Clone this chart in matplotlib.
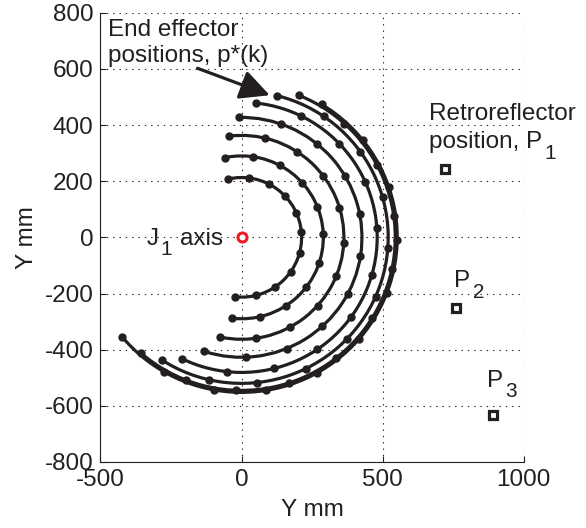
import numpy as np
import matplotlib
matplotlib.use('Agg')
import matplotlib.pyplot as plt
from matplotlib.patches import Arc

plt.rcParams['font.family'] = ['Liberation Sans', 'DejaVu Sans']
plt.rcParams['axes.unicode_minus'] = False

# end effector arcs (mm, degrees)
radii = [213, 290, 363, 427, 481, 520, 545, 552]
start_deg = [103, 102, 97, 91, 84, 76, 68, 59]
end_deg = [-96, -97, -102, -108, -116, -123, -131, -140]
dot_deg = [
    [103, 83, 63, 44, 24, 5, -15, -35, -56, -76, -96],
    [102, 82, 62, 42, 22, 2, -18, -38, -57, -77, -97],
    [97, 77, 57, 37, 17, -3, -22, -42, -62, -82, -102],
    [91, 71, 51, 31, 11, -9, -28, -48, -68, -88, -108],
    [84, 64, 44, 24, 4, -16, -36, -56, -76, -96, -116],
    [76, 56, 36, 16, -4, -24, -44, -64, -84, -103, -123],
    [68, 48, 28, 8, -12, -32, -52, -72, -92, -111, -131],
    [59, 39, 19, -1, -21, -41, -61, -81, -100, -120, -140],
]

# retroreflector positions
retro_x = [722, 760, 892]
retro_y = [243, -253, -632]
retro_base = ['position, P', 'P', 'P']
retro_sub = ['1', '2', '3']
retro_text_x = [664, 755, 870]
retro_text_y = [317, -178, -532]

ink = '#231f20'
fs = 17.5


def with_sub(x, y, base, sub):
    # MATLAB style subscript: nearly full size, dropped well below baseline
    t = ax.text(x, y, base, fontsize=fs, color=ink, ha='left', va='baseline')
    ax.annotate(sub, xy=(1, 0), xycoords=t, xytext=(1.5, -4), textcoords='offset points',
                fontsize=fs * 0.85, color=ink, ha='left', va='baseline')
    return t


fig = plt.figure(figsize=(5.86, 5.28), dpi=100)
ax = fig.add_axes([0.1715, 0.125, 0.722, 0.851])

for r, a0, a1, dots in zip(radii, start_deg, end_deg, dot_deg):
    ax.add_patch(Arc((0, 0), 2 * r, 2 * r, theta1=a1, theta2=a0,
                     color=ink, lw=2.3, zorder=3))
    t = np.radians(dots)
    ax.plot(r * np.cos(t), r * np.sin(t), 'o', color=ink, ms=5, zorder=4)

# J1 axis
ax.plot(0, 0, 'o', mfc='white', mec='#ed1c24', ms=6.5, mew=2.2, zorder=5)
with_sub(-336, -27, 'J', '1')
ax.text(-66, -27, 'axis', fontsize=fs, color=ink, ha='right', va='baseline')

ax.plot(retro_x, retro_y, 's', mfc='white', mec=ink, ms=5.5, mew=2.3, zorder=5)
ax.text(664, 417, 'Retroreflector', fontsize=fs, color=ink, ha='left', va='baseline')
for base, sub, tx, ty in zip(retro_base, retro_sub, retro_text_x, retro_text_y):
    with_sub(tx, ty, base, sub)

ax.text(-472, 625, 'End effector\npositions, p*(k)', fontsize=fs, color=ink,
        ha='left', va='baseline')
ax.annotate('', xy=(100, 506), xytext=(-156, 602),
            arrowprops=dict(arrowstyle='-|>,head_length=0.9,head_width=0.45',
                            lw=2.3, color=ink, mutation_scale=20,
                            shrinkA=0, shrinkB=0))

ax.set_xlim(-500, 1000)
ax.set_ylim(-800, 800)
ax.set_xticks([-500, 0, 500, 1000])
ax.set_yticks(np.arange(-800, 801, 200))
ax.grid(True, color=ink, lw=0.8, linestyle=(0, (1.2, 4.5)))
ax.set_axisbelow(True)
for s in ['top', 'right']:
    ax.spines[s].set_visible(False)
for s in ['left', 'bottom']:
    ax.spines[s].set_color(ink)
    ax.spines[s].set_linewidth(0.8)
ax.tick_params(direction='in', length=4, width=0.8, colors=ink,
               labelsize=fs, pad=5)
ax.set_xlabel('Y mm', fontsize=fs, color=ink, labelpad=6)
ax.set_ylabel('Y mm', fontsize=fs, color=ink, labelpad=5)

fig.savefig('out.png', dpi=100)
